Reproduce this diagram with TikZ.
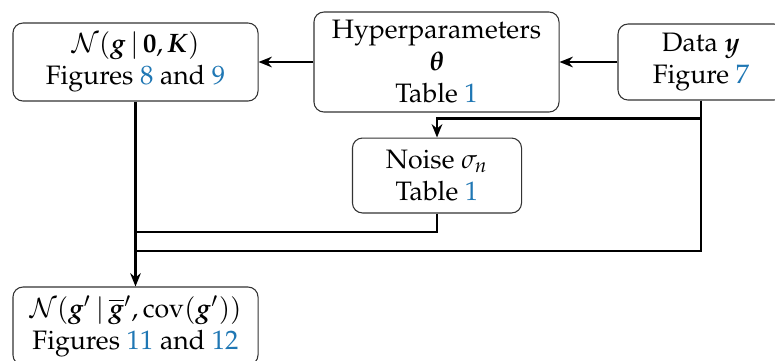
\documentclass[tikz,border=0pt]{standalone}
\usepackage[T1]{fontenc}
\usepackage{mathpazo}
\usepackage{amsmath,bm}
\usetikzlibrary{arrows.meta}
\definecolor{linkblue}{RGB}{31,119,180}
\newcommand{\lk}[1]{\textcolor{linkblue}{#1}}
\begin{document}
\begin{tikzpicture}[x=0.375pt,y=-0.375pt,
 box/.style={draw=black!80, line width=0.4pt, rounded corners=3.75pt, align=center, inner sep=0pt, fill=white},
 conn/.style={line width=0.8pt, draw=black},
 arr/.style={conn, -{Stealth[length=5pt,width=4pt]}}]
\clip (0,0) rectangle (775,360);
\node[box, minimum width=91.9pt, minimum height=29.25pt] (A) at (135.5,62)
  {$\mathcal{N}(\bm{g}\,|\,\mathbf{0},\bm{K})$\\Figures \lk{8} and \lk{9}};
\node[box, minimum width=91.9pt, minimum height=37.5pt] (H) at (436.5,62)
  {Hyperparameters\\$\bm{\theta}$\\Table \lk{1}};
\node[box, minimum width=62.25pt, minimum height=28.5pt] (D) at (701,62)
  {Data $\bm{y}$\\Figure \lk{7}};
\node[box, minimum width=63.4pt, minimum height=28.1pt] (N) at (437,175.5)
  {Noise $\sigma_n$\\Table \lk{1}};
\node[box, minimum width=91.9pt, minimum height=29.25pt] (B) at (135.5,326)
  {$\mathcal{N}(\bm{g}'\,|\,\overline{\bm{g}}',\operatorname{cov}(\bm{g}'))$\\Figures \lk{11} and \lk{12}};
\coordinate (m1) at (135.5,232);
\coordinate (m2) at (135.5,251);
\draw[arr] (H.west) -- (A.east);
\draw[arr] (D.west) -- (H.east);
\draw[arr] (D.south) -- ++(0,18) -| (N.north);
\draw[conn] (N.south) |- (m1);
\draw[conn] (D.south) |- (m2);
\draw[arr] (A.south) -- (B.north);
\end{tikzpicture}
\end{document}
